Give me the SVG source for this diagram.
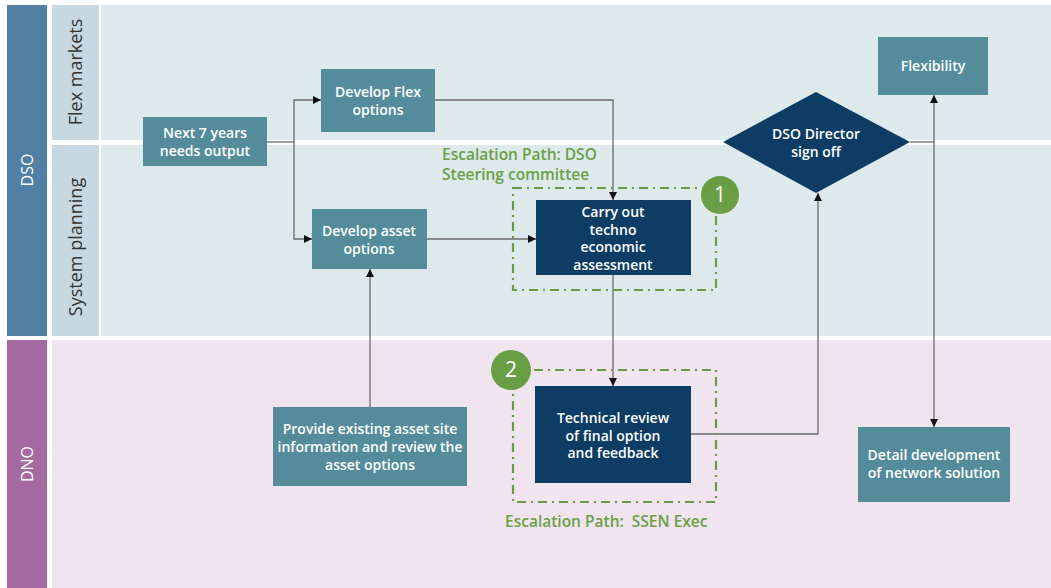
<svg xmlns="http://www.w3.org/2000/svg" width="1051" height="588" viewBox="0 0 1051 588">
<style>
.node{fill:#548c9c}
.dark{fill:#0d3d64}
.t{font-family:"Open Sans","Liberation Sans",sans-serif;font-weight:600;font-size:14px;fill:#ffffff;text-anchor:middle}
.lane{font-family:"Open Sans","Liberation Sans",sans-serif;font-size:18px;fill:#333333;text-anchor:middle}
.pool{font-family:"Open Sans","Liberation Sans",sans-serif;font-size:16px;fill:#ffffff;text-anchor:middle}
.esc{font-family:"Open Sans","Liberation Sans",sans-serif;font-weight:600;font-size:15.5px;fill:#6aa046;white-space:pre}
.conn{fill:none;stroke:#6b6b6b;stroke-width:1.3}
.dash{fill:none;stroke:#6a9a48;stroke-width:2.2;stroke-dasharray:9 5 2 5}
.badge{fill:#6a9e44}
.num{font-family:"Open Sans","Liberation Sans",sans-serif;font-size:21px;fill:#ffffff;text-anchor:middle}
</style>
<defs>
<marker id="arr" viewBox="0 0 10 10" refX="10" refY="5" markerWidth="8" markerHeight="8" markerUnits="userSpaceOnUse" orient="auto">
<path d="M0,0 L10,5 L0,10 z" fill="#111111"/>
</marker>
</defs>
<rect x="0" y="0" width="1051" height="588" fill="#ffffff"/>
<g id="lanes">
<rect x="7" y="5" width="40" height="331" fill="#5180a4"/>
<rect x="7" y="340" width="40" height="248" fill="#a56aa0"/>
<rect x="52" y="5" width="47" height="135" fill="#c8d8e2"/>
<rect x="52" y="145" width="47" height="191" fill="#c8d8e2"/>
<rect x="101" y="5" width="950" height="135" fill="#dee9eb"/>
<rect x="101" y="145" width="950" height="191" fill="#dee9eb"/>
<rect x="52" y="340" width="999" height="248" fill="#f0e4ee"/>
<text class="pool" transform="translate(33,170) rotate(-90)">DSO</text>
<text class="pool" transform="translate(33,464) rotate(-90)">DNO</text>
<text class="lane" transform="translate(82,72) rotate(-90)">Flex markets</text>
<text class="lane" transform="translate(82,247) rotate(-90)">System planning</text>
</g>
<g id="connectors">
<polyline class="conn" points="267,142 294,142"/>
<polyline class="conn" points="294,142 294,100 321,100" marker-end="url(#arr)"/>
<polyline class="conn" points="294,142 294,239 312,239" marker-end="url(#arr)"/>
<polyline class="conn" points="435,100 613,100 613,200" marker-end="url(#arr)"/>
<polyline class="conn" points="427,239 536,239" marker-end="url(#arr)"/>
<polyline class="conn" points="613,274 613,386" marker-end="url(#arr)"/>
<polyline class="conn" points="691,434 818,434 818,193" marker-end="url(#arr)"/>
<polyline class="conn" points="370,407 370,269" marker-end="url(#arr)"/>
<polyline class="conn" points="910,142 934,142"/>
<polyline class="conn" points="934,142 934,95" marker-end="url(#arr)"/>
<polyline class="conn" points="934,142 934,427" marker-end="url(#arr)"/>
</g>
<g id="next7">
<rect class="node" x="143" y="117" width="124" height="49"/>
<text class="t" x="205" y="138">Next 7 years</text>
<text class="t" x="205" y="156">needs output</text>
</g>
<g id="flexopt">
<rect class="node" x="321" y="69" width="114" height="63"/>
<text class="t" x="378" y="97">Develop Flex</text>
<text class="t" x="378" y="115">options</text>
</g>
<g id="assetopt">
<rect class="node" x="312" y="209" width="115" height="60"/>
<text class="t" x="369" y="236">Develop asset</text>
<text class="t" x="369" y="254">options</text>
</g>
<g id="escalation1">
<rect class="dash" x="513" y="188" width="203" height="102"/>
<text class="esc" x="442" y="160"><tspan x="442">Escalation Path: DSO</tspan><tspan x="442" dy="20">Steering committee</tspan></text>
<circle class="badge" cx="720" cy="195" r="19"/>
<text class="num" x="720" y="202">1</text>
</g>
<g id="assess">
<rect class="dark" x="536" y="200" width="155" height="75"/>
<text class="t" x="613" y="217">Carry out</text>
<text class="t" x="613" y="235">techno</text>
<text class="t" x="613" y="252">economic</text>
<text class="t" x="613" y="270">assessment</text>
</g>
<g id="signoff">
<polygon class="dark" points="816,92 910,142 816,193 723,142"/>
<text class="t" x="816" y="139">DSO Director</text>
<text class="t" x="816" y="157">sign off</text>
</g>
<g id="flexibility">
<rect class="node" x="878" y="37" width="110" height="58"/>
<text class="t" x="933" y="71">Flexibility</text>
</g>
<g id="escalation2">
<rect class="dash" x="513" y="370" width="203" height="132"/>
<text class="esc" x="505" y="527">Escalation Path:  SSEN Exec</text>
<circle class="badge" cx="511" cy="370" r="20"/>
<text class="num" x="511" y="377">2</text>
</g>
<g id="techreview">
<rect class="dark" x="535" y="386" width="156" height="97"/>
<text class="t" x="613" y="423">Technical review</text>
<text class="t" x="613" y="441">of final option</text>
<text class="t" x="613" y="458">and feedback</text>
</g>
<g id="provide">
<rect class="node" x="273" y="407" width="194" height="79"/>
<text class="t" x="370" y="434">Provide existing asset site</text>
<text class="t" x="370" y="452">information and review the</text>
<text class="t" x="370" y="470">asset options</text>
</g>
<g id="detail">
<rect class="node" x="858" y="427" width="152" height="75"/>
<text class="t" x="934" y="460">Detail development</text>
<text class="t" x="934" y="478">of network solution</text>
</g>
</svg>
